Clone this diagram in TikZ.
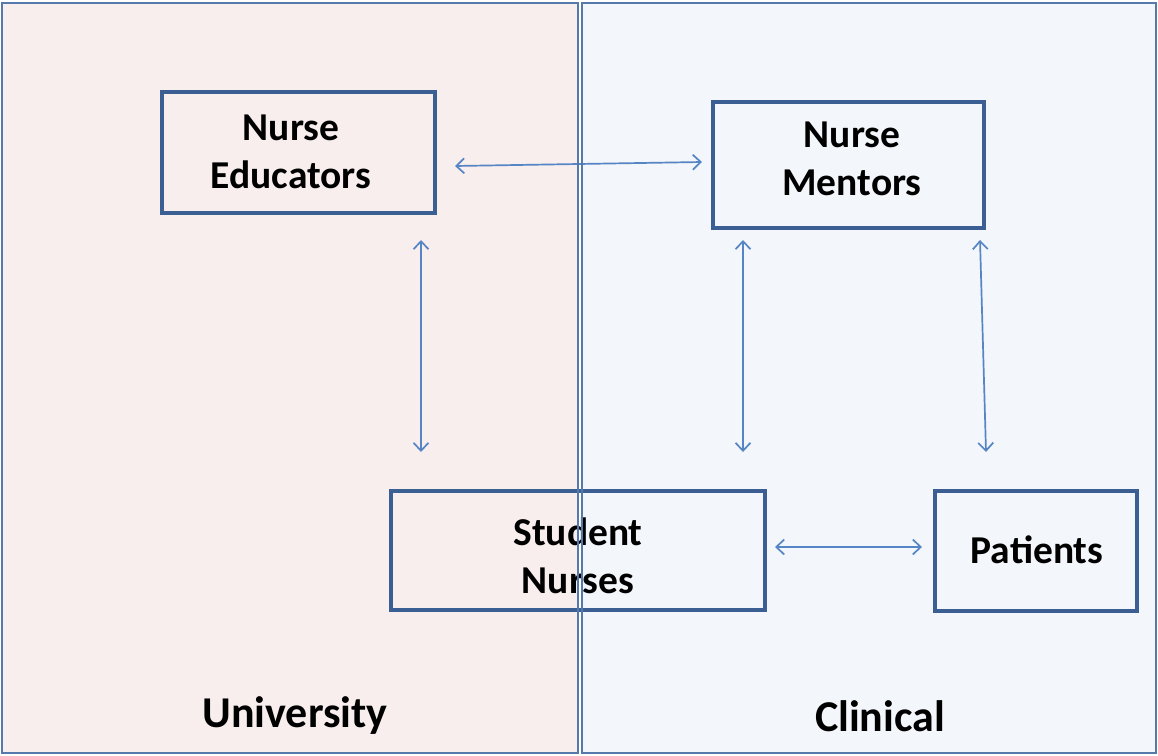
\documentclass[tikz,border=0pt]{standalone}
\usepackage{fontspec}
\setmainfont{Carlito}
\usetikzlibrary{arrows.meta}
\definecolor{unifill}{HTML}{F8EEEE}
\definecolor{clinfill}{HTML}{F3F6FA}
\definecolor{panelline}{HTML}{5679AC}
\definecolor{boxline}{HTML}{3B5F93}
\definecolor{arrowcol}{HTML}{5585C4}
\tikzset{
  entity/.style={draw=boxline, line width=3.2pt, inner sep=0pt},
  entitytext/.style={font=\bfseries\fontsize{39.5}{48}\selectfont, align=center, inner sep=0pt},
  panellabel/.style={font=\bfseries\fontsize{44}{50}\selectfont, inner sep=0pt},
  link/.style={draw=arrowcol, line width=1.7pt, {Straight Barb[length=8pt,width=15pt,line width=1.7pt]}-{Straight Barb[length=8pt,width=15pt,line width=1.7pt]}},
  panelborder/.style={draw=panelline, line width=1.8pt}
}
\begin{document}
\begin{tikzpicture}[x=1pt,y=-1pt]
\useasboundingbox (0,0) rectangle (1158,755);
% panel fills
\fill[unifill] (2,3) rectangle (578,753);
\fill[clinfill] (582,3) rectangle (1156,753);
% entity boxes
\node[entity, minimum width=273pt, minimum height=121pt] (edu) at (298.5,152.5) {};
\node[entitytext] (edutext) at (291,152) {Nurse\\Educators};
\node[entity, minimum width=271pt, minimum height=126pt] (men) at (848.5,165) {};
\node[entitytext] (mentext) at (852,159) {Nurse\\Mentors};
\node[entity, minimum width=374pt, minimum height=119pt] (stu) at (578,550.5) {};
\node[entitytext] (stutext) at (578,556) {Student\\Nurses};
\node[entity, minimum width=202pt, minimum height=120pt] (pat) at (1036,551) {};
\node[entitytext] (pattext) at (1037,550) {Patients};
% connector end points
\coordinate (a1) at (455,166);
\coordinate (a2) at (702,162);
\coordinate (b1) at (421,240);
\coordinate (b2) at (421,452);
\coordinate (c1) at (743,240);
\coordinate (c2) at (743,452);
\coordinate (d1) at (980,240);
\coordinate (d2) at (986,452);
\coordinate (e1) at (775,547);
\coordinate (e2) at (922,547);
\draw[link] (a1) -- (a2);
\draw[link] (b1) -- (b2);
\draw[link] (c1) -- (c2);
\draw[link] (d1) -- (d2);
\draw[link] (e1) -- (e2);
% panel labels
\node[panellabel] (uni) at (295,716) {University};
\node[panellabel] (cli) at (880,716) {Clinical};
% panel borders on top
\draw[panelborder] (2,3) rectangle (578,753);
\draw[panelborder] (582,3) rectangle (1156,753);
\end{tikzpicture}
\end{document}
